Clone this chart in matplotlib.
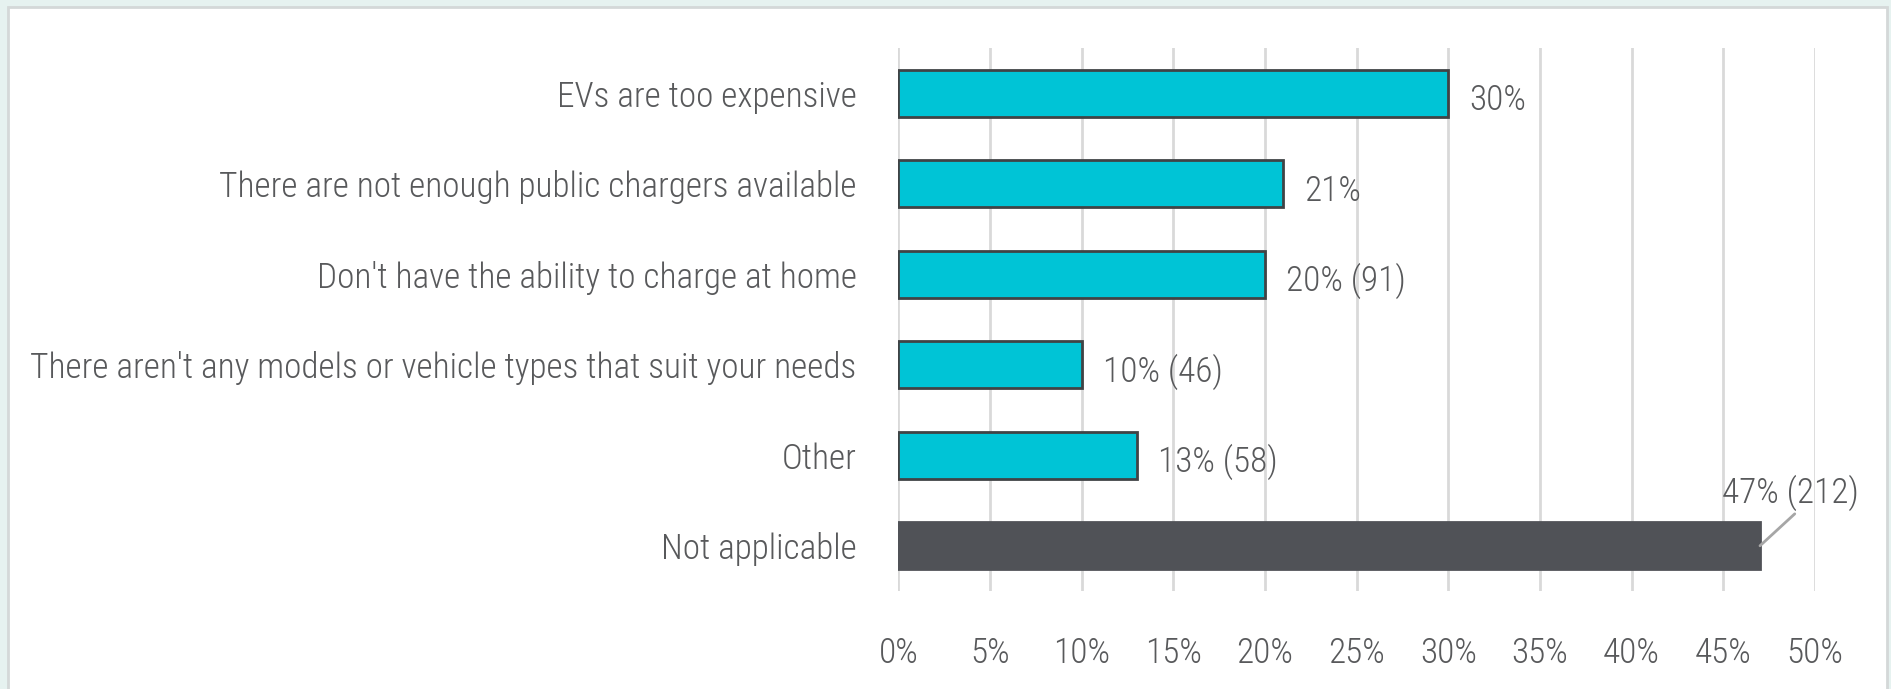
import matplotlib.pyplot as plt
from matplotlib.patches import Rectangle

# Chart data
categories = [
    "EVs are too expensive",
    "There are not enough public chargers available",
    "Don't have the ability to charge at home",
    "There aren't any models or vehicle types that suit your needs",
    "Other",
    "Not applicable",
]
values = [30, 21, 20, 10, 13, 47]
value_labels = ["30%", "21%", "20% (91)", "10% (46)", "13% (58)", "47% (212)"]
xticks = [0, 5, 10, 15, 20, 25, 30, 35, 40, 45, 50]
xtick_labels = [f"{t}%" for t in xticks]

TEXT = '#58595b'
CYAN = '#00c4d6'
DARK = '#505257'

plt.rcParams['font.family'] = ['Roboto Condensed', 'Open Sans', 'DejaVu Sans']
plt.rcParams['font.weight'] = 'light'


def main():
    fig = plt.figure(figsize=(18.91, 6.89), dpi=100)
    fig.patch.set_facecolor('#e6f2f0')
    # white panel with a thin grey frame
    fig.patches.append(Rectangle((8 / 1891, -0.01), 1879 / 1891, 1 - 7 / 689 + 0.01,
                                 transform=fig.transFigure, facecolor='white',
                                 edgecolor='#d4d8d8', linewidth=2, zorder=-10))

    # pick a font size so the longest category label is ~825 px wide
    r = fig.canvas.get_renderer()
    probe = fig.text(0, 0, max(categories, key=len), fontsize=20)
    w = probe.get_window_extent(r).width
    probe.remove()
    fs = min(27, 20 * 825 / w)

    ax = fig.add_axes([0.4751, 0.1422, 0.4847, 0.7878])
    ax.set_facecolor('none')

    y = list(range(len(categories)))
    colors = [CYAN] * (len(values) - 1) + [DARK]
    edges = ['#404345'] * (len(values) - 1) + [DARK]
    ax.barh(y, values, height=0.52, color=colors, edgecolor=edges, linewidth=2, zorder=3)

    ax.set_xlim(0, 50)
    ax.set_ylim(len(categories) - 0.5, -0.5)
    ax.set_xticks(xticks)
    ax.set_xticklabels(xtick_labels)
    ax.set_yticks(y)
    ax.set_yticklabels(categories)
    ax.tick_params(axis='x', length=0, pad=33, labelsize=fs, labelcolor=TEXT)
    ax.tick_params(axis='y', length=0, pad=30, labelsize=fs, labelcolor=TEXT)
    ax.grid(axis='x', color='#d9d9d9', linewidth=2, zorder=0)
    for s in ax.spines.values():
        s.set_visible(False)

    # value labels
    for i, (v, lab) in enumerate(zip(values[:-1], value_labels[:-1])):
        ax.annotate(lab, (v, i), xytext=(15, -5), textcoords='offset points',
                    ha='left', va='center', fontsize=fs, color=TEXT)
    # last label sits above the bar with a leader line
    ax.annotate(value_labels[-1], (values[-1], len(values) - 1), xytext=(-27, 25),
                textcoords='offset points', ha='left', va='bottom', fontsize=fs,
                color=TEXT,
                arrowprops=dict(arrowstyle='-', color='#a6a6a6', lw=2,
                                shrinkA=0, shrinkB=0, relpos=(0.55, 0.0)))

    fig.savefig('out.png', dpi=100)


if __name__ == "__main__":
    main()
